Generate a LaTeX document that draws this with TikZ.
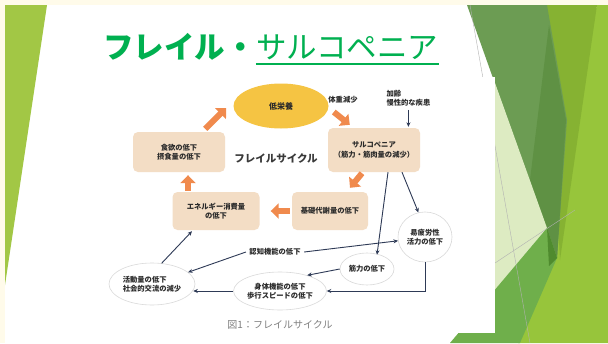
\documentclass[tikz,border=0pt]{standalone}
\usepackage{fontspec}
\newfontfamily\jp{Noto Sans CJK JP}
\usetikzlibrary{shapes.geometric,arrows.meta,calc}
\definecolor{cream}{HTML}{FFFBEA}
\definecolor{leftgreen}{HTML}{A2C745}
\definecolor{titlegreen}{HTML}{00B050}
\definecolor{darkg}{HTML}{6C9C53}
\definecolor{darker}{HTML}{5F9144}
\definecolor{olive}{HTML}{86B232}
\definecolor{lightg}{HTML}{97C53B}
\definecolor{pale}{HTML}{DDEBC2}
\definecolor{midg}{HTML}{6FAF4B}
\definecolor{darkest}{HTML}{4F8B2E}
\definecolor{boxbeige}{HTML}{F3DDC5}
\definecolor{yell}{HTML}{F5C443}
\definecolor{orng}{HTML}{F08A4D}
\definecolor{navy}{HTML}{2E3A56}
\definecolor{ellgray}{HTML}{D9D9D9}
\definecolor{txt}{HTML}{2A2A2A}
\definecolor{txttwo}{HTML}{3A3A3A}
\begin{document}
\begin{tikzpicture}[x=1pt,y=-1pt,
  jpt/.style={font=\jp\bfseries\fontsize{7.3}{9.5}\selectfont, text=txt},
  bbox/.style={jpt, fill=boxbeige, rounded corners=5pt, align=center, inner sep=0pt},
  ell/.style={jpt, ellipse, draw=ellgray, line width=0.6pt, fill=white, align=center, inner sep=0pt},
  oarr/.style={draw=orng, line width=6pt, -{Triangle[length=8pt,width=15pt]}},
  narr/.style={draw=navy, line width=0.9pt, -{Stealth[length=4.5pt,width=4pt]}},
  deco/.style={draw=gray!60, line width=0.4pt}
]
\useasboundingbox (0,0) rectangle (608,343);
% slide background
\fill[cream] (0,0) rectangle (608,343);
\fill[white] (5,5) rectangle (608,343);
\fill[leftgreen] (5,5) -- (47,5) -- (5,285) -- cycle;
% right decorations
\fill[lightg] (597,5) -- (608,5) -- (608,343) -- (518,343) -- cycle;
\fill[olive] (547,5) -- (597,5) -- (560,260) -- cycle;
\fill[darkg] (467,5) -- (547,5) -- (567,120) -- (557,258) -- cycle;
\fill[darker] (549,25) -- (566,120) -- (557,258) -- (530,180) -- cycle;
\fill[pale] (495,83) -- (547,228) -- (495,290) -- cycle;
\fill[midg] (450,343) -- (547,228) -- (557,258) -- (520,343) -- cycle;
\fill[darkest] (547,228) -- (557,258) -- (549,266) -- cycle;
\draw[deco] (470,5) -- (530,343);
\draw[deco] (495,263) -- (575,210);
% diagram image area
\fill[white] (110,77) rectangle (495,333);
% title
\node[anchor=base west, inner sep=0pt, text=titlegreen, font=\jp\bfseries\fontsize{30.5}{36}\selectfont] (t1) at (103,58) {フレイル・};
\node[anchor=base west, inner sep=0pt, text=titlegreen, font=\jp\fontsize{30.5}{36}\selectfont] (t2) at (t1.base east) {サルコペニア};
\draw[titlegreen, line width=1.2pt] ($(t2.base west)+(0,6)$) -- ($(t2.base east)+(0,6)$);
% diagram nodes
\node[ell, fill=yell, draw=none, minimum width=95pt, minimum height=45pt, font=\jp\bfseries\fontsize{8}{9}\selectfont] (tei) at (281,106) {低栄養};
\node[bbox, minimum width=92pt, minimum height=40pt] (shoku) at (179,152) {食欲の低下\\摂食量の低下};
\node[font=\jp\bfseries\fontsize{10.5}{12}\selectfont, text=txttwo] (fc) at (276,158) {フレイルサイクル};
\node[bbox, minimum width=92pt, minimum height=44pt] (sarco) at (374,150) {サルコペニア\\（筋力・筋肉量の減少）};
\node[bbox, minimum width=76pt, minimum height=38pt] (kiso) at (330,211) {基礎代謝量の低下};
\node[bbox, minimum width=87pt, minimum height=38pt] (ene) at (216,211) {エネルギー消費量\\の低下};
\node[jpt] (taiju) at (343,100) {体重減少};
\node[jpt, align=left, anchor=west] (karei) at (383,98) {加齢\\慢性的な疾患};
\node[jpt] (ninchi) at (275,252) {認知機能の低下};
\node[ell, minimum width=54pt, minimum height=50pt] (ekiro) at (425,237) {易疲労性\\活力の低下};
\node[ell, minimum width=54pt, minimum height=32pt] (kin) at (367,269) {筋力の低下};
\node[ell, minimum width=90pt, minimum height=38pt] (shin) at (280,291) {身体機能の低下\\歩行スピードの低下};
\node[ell, minimum width=86pt, minimum height=42pt, align=left] (katsu) at (152,284) {活動量の低下\\社会的交流の減少};
\node[font=\jp\fontsize{10}{12}\selectfont, text=gray] (cap) at (280,325) {図1：フレイルサイクル};
% orange arrows
\draw[oarr] ($(shoku.north east)+(-20,-3)$) -- ($(tei.west)+(-7,2)$);
\draw[oarr] ($(tei.east)+(5,6)$) -- ($(sarco.north west)+(22,-3)$);
\draw[oarr] ($(sarco.south)+(-12,1)$) -- ($(kiso.north)+(20,-4)$);
\draw[oarr] ($(kiso.west)+(-2,0)$) -- ($(ene.east)+(11,0)$);
\draw[oarr] ($(ene.north)+(-28,-1)$) -- ($(shoku.south)+(9,3)$);
% navy connectors
\draw[narr, shorten >=1pt] (karei.south) -- (karei.south |- sarco.north);
\draw[narr] ($(sarco.south)+(14,0)$) -- ($(kin.north)+(10,2)$);
\draw[narr] ($(sarco.south)+(28,0)$) -- (ekiro.105);
\draw[narr] (ninchi.east) -- (ekiro.188);
\draw[narr] (ninchi.west) -- (katsu.18);
\draw[narr] (kin.west) -- (shin.30);
\draw[narr] (ekiro.south) |- (shin.east);
\draw[narr] (shin.west) -- ($(katsu.east)+(-2,7)$);
\draw[narr] (katsu.65) -- ($(ene.south)+(-24,1)$);
\end{tikzpicture}
\end{document}
